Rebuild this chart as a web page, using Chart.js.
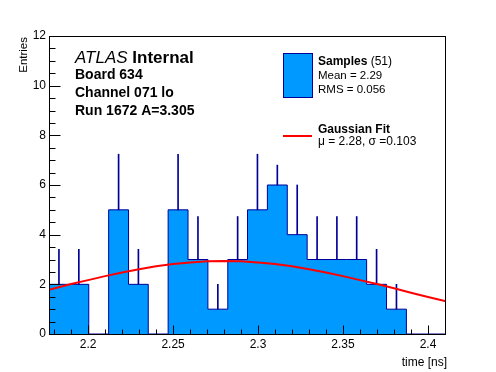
<!DOCTYPE html>
<html>
<head>
<meta charset="utf-8">
<script src="https://cdn.jsdelivr.net/npm/chart.js@4/dist/chart.umd.min.js"></script>
<style>
  body { margin: 0; background: #ffffff; }
  canvas { display: block; }
</style>
</head>
<body>
<canvas id="histo" width="496" height="372"></canvas>
<script>
// bin edges of the histogram (time in ns)
var binEdges = [2.1770, 2.1887, 2.2004, 2.2121, 2.2238, 2.2354, 2.2471, 2.2588, 2.2705, 2.2822,
                2.2938, 2.3055, 2.3172, 2.3289, 2.3406, 2.3522, 2.3639, 2.3756, 2.3873, 2.3990, 2.4106];
// entries per bin
var counts = [2, 2, 0, 5, 2, 0, 5, 3, 1, 3, 5, 6, 4, 3, 3, 3, 2, 1, 0, 0];
// top of the error bar of each bin (null = no bar)
var errTop = [3.41, 3.41, null, 7.24, 3.41, null, 7.24, 4.73, 2.0, 4.73,
              7.24, 6.8, 6.0, 4.73, 4.73, 4.73, 3.41, 2.0, null, null];
// gaussian fit curve
var fitX = [2.177, 2.19, 2.20, 2.21, 2.22, 2.23, 2.24, 2.25, 2.26, 2.27, 2.28, 2.29,
            2.30, 2.31, 2.32, 2.33, 2.34, 2.35, 2.36, 2.37, 2.38, 2.39, 2.40, 2.4106];
var fitY = [1.78, 2.01, 2.17, 2.33, 2.48, 2.61, 2.73, 2.82, 2.88, 2.93, 2.94, 2.93,
            2.88, 2.82, 2.73, 2.61, 2.48, 2.33, 2.17, 2.01, 1.84, 1.66, 1.49, 1.32];
// axis ticks
var xTicks = [2.2, 2.25, 2.3, 2.35, 2.4];
var yTicks = [0, 2, 4, 6, 8, 10, 12];

var azul = "#0099ff";
var marino = "#000099";
var fuente = '"Liberation Sans", Arial, Helvetica, sans-serif';

function cargaHistograma() {
    // outline / fill as a stepped line
    var contorno = [];
    for (var i = 0; i < counts.length; i++) {
        contorno.push({ x: binEdges[i], y: counts[i] });
    }
    contorno.push({ x: binEdges[binEdges.length - 1], y: 0 });

    var errores = [];
    for (var j = 0; j < counts.length; j++) {
        if (errTop[j] === null) continue;
        errores.push({ x: (binEdges[j] + binEdges[j + 1]) / 2, y: [counts[j], errTop[j]] });
    }

    var ajuste = fitX.map(function (x, k) { return { x: x, y: fitY[k] }; });

    // frame, inner ticks and texts
    var marco = {
        id: "marco",
        afterDraw: function (chart) {
            var ctx = chart.ctx;
            var a = chart.chartArea;
            var sx = chart.scales.x;
            var sy = chart.scales.y;
            ctx.save();
            ctx.strokeStyle = "#000";
            ctx.lineWidth = 1;
            ctx.strokeRect(Math.round(a.left) + 0.5, Math.round(a.top) + 0.5,
                Math.round(a.right - a.left) - 1, Math.round(a.bottom - a.top));

            ctx.beginPath();
            var yb = Math.round(a.bottom) + 0.5;
            var xl = Math.round(a.left) + 0.5;
            for (var v = 2.18; v < sx.max; v += 0.01) {
                var px = Math.round(sx.getPixelForValue(v)) + 0.5;
                var mayor = Math.abs(Math.round(v * 20) - v * 20) < 1e-6;
                ctx.moveTo(px, yb);
                ctx.lineTo(px, yb - (mayor ? 9 : 5));
            }
            for (var w = 0.5; w < 12; w += 0.5) {
                var py = Math.round(sy.getPixelForValue(w)) + 0.5;
                var may = (w % 2) === 0;
                ctx.moveTo(xl, py);
                ctx.lineTo(xl + (may ? 11 : 6), py);
            }
            ctx.stroke();

            // axis titles
            ctx.fillStyle = "#000";
            ctx.font = "12px " + fuente;
            ctx.textAlign = "right";
            ctx.textBaseline = "alphabetic";
            ctx.fillText("time [ns]", 447, 366);
            ctx.save();
            ctx.translate(27, 37);
            ctx.rotate(-Math.PI / 2);
            ctx.font = "11.5px " + fuente;
            ctx.fillText("Entries", 0, 0);
            ctx.restore();

            // labels
            ctx.textAlign = "left";
            ctx.font = "italic 17px " + fuente;
            ctx.fillText("ATLAS", 75, 63);
            var wA = ctx.measureText("ATLAS ").width;
            ctx.font = "bold 17px " + fuente;
            ctx.fillText("Internal", 75 + wA, 63);
            ctx.font = "bold 14px " + fuente;
            ctx.fillText("Board 634", 75, 79);
            ctx.fillText("Channel 071 lo", 75, 97);
            ctx.fillText("Run 1672 A=3.305", 75, 115);

            // legend
            ctx.fillStyle = azul;
            ctx.fillRect(283, 53, 29, 44);
            ctx.strokeStyle = marino;
            ctx.strokeRect(283.5, 53.5, 29, 44);
            ctx.fillStyle = "#000";
            ctx.font = "bold 12px " + fuente;
            ctx.fillText("Samples", 318, 65);
            var wS = ctx.measureText("Samples").width;
            ctx.font = "12px " + fuente;
            ctx.fillText(" (51)", 318 + wS, 65);
            ctx.font = "11.5px " + fuente;
            ctx.fillText("Mean = 2.29", 318, 79);
            ctx.fillText("RMS = 0.056", 318, 93);
            ctx.strokeStyle = "#ff0000";
            ctx.lineWidth = 2;
            ctx.beginPath();
            ctx.moveTo(283, 136);
            ctx.lineTo(312, 136);
            ctx.stroke();
            ctx.font = "bold 12px " + fuente;
            ctx.fillText("Gaussian Fit", 318, 133);
            ctx.font = "12px " + fuente;
            ctx.fillText("\u03bc = 2.28, \u03c3 =0.103", 318, 145);
            ctx.restore();
        }
    };

    var config = {
        type: "line",
        data: {
            datasets: [{
                type: "line",
                label: "Gaussian Fit",
                data: ajuste,
                borderColor: "#ff0000",
                borderWidth: 2,
                pointRadius: 0,
                fill: false,
                order: 0
            }, {
                type: "bar",
                label: "errores",
                data: errores,
                backgroundColor: marino,
                barThickness: 1,
                order: 1
            }, {
                type: "line",
                label: "Samples",
                data: contorno,
                stepped: "before",
                borderColor: marino,
                borderWidth: 1,
                backgroundColor: azul,
                fill: "origin",
                pointRadius: 0,
                order: 2
            }]
        },
        options: {
            responsive: false,
            animation: false,
            layout: { padding: { left: 0, top: 36, right: 50, bottom: 0 } },
            plugins: {
                legend: { display: false },
                tooltip: { enabled: false }
            },
            scales: {
                x: {
                    type: "linear",
                    min: binEdges[0],
                    max: binEdges[binEdges.length - 1],
                    offset: false,
                    grid: { display: false, drawTicks: false },
                    border: { display: false },
                    afterBuildTicks: function (s) { s.ticks = xTicks.map(function (v) { return { value: v }; }); },
                    afterFit: function (s) { s.height = 38; },
                    ticks: {
                        padding: 3,
                        color: "#000",
                        font: { family: fuente, size: 12 },
                        maxRotation: 0,
                        autoSkip: false,
                        callback: function (v) { return String(Math.round(v * 100) / 100); }
                    }
                },
                y: {
                    min: 0,
                    max: 12,
                    grid: { display: false, drawTicks: false },
                    border: { display: false },
                    afterBuildTicks: function (s) { s.ticks = yTicks.map(function (v) { return { value: v }; }); },
                    afterFit: function (s) { s.width = 49; },
                    ticks: {
                        padding: 3,
                        color: "#000",
                        font: { family: fuente, size: 12 },
                        autoSkip: false
                    }
                }
            }
        },
        plugins: [marco]
    };

    var lienzo = document.getElementById("histo").getContext("2d");
    new Chart(lienzo, config);
}

cargaHistograma();
</script>
</body>
</html>
